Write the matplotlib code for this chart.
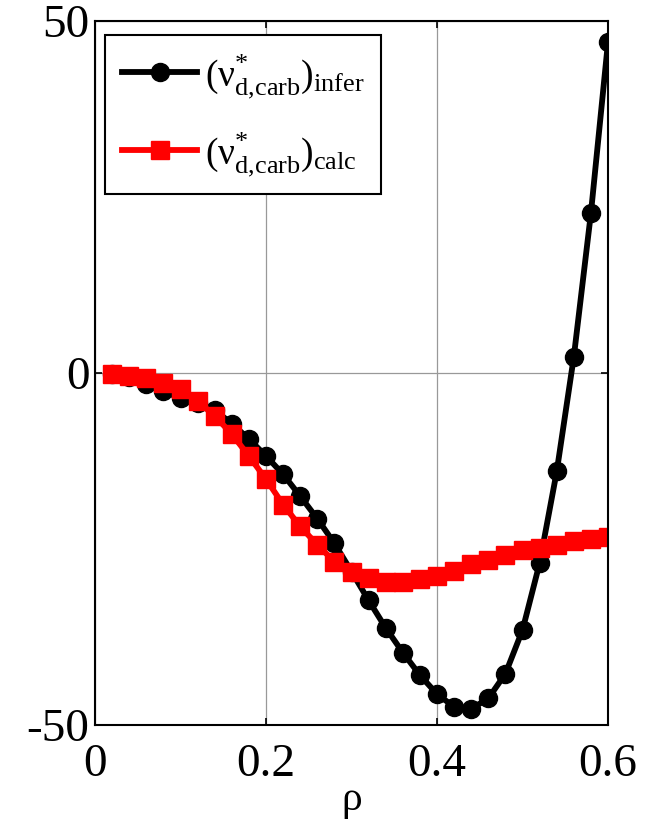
import numpy as np
import matplotlib
matplotlib.use('Agg')
import matplotlib.pyplot as plt

plt.rcParams['font.family'] = ['Liberation Serif', 'DejaVu Serif']
plt.rcParams['mathtext.fontset'] = 'custom'
plt.rcParams['mathtext.rm'] = 'Liberation Serif'
plt.rcParams['mathtext.it'] = 'Liberation Serif:italic'
plt.rcParams['axes.unicode_minus'] = False

rho = [0.02, 0.04, 0.06, 0.08, 0.10, 0.12, 0.14, 0.16, 0.18, 0.20,
       0.22, 0.24, 0.26, 0.28, 0.30, 0.32, 0.34, 0.36, 0.38, 0.40,
       0.42, 0.44, 0.46, 0.48, 0.50, 0.52, 0.54, 0.56, 0.58, 0.60]

nu_infer = [-0.1, -0.6, -1.6, -2.6, -3.6, -4.3, -5.3, -7.2, -9.4, -11.8,
            -14.4, -17.5, -20.7, -24.2, -28.2, -32.3, -36.2, -39.7, -42.9, -45.6,
            -47.4, -47.7, -46.2, -42.7, -36.5, -27.0, -14.0, 2.3, 22.7, 47.0]

nu_calc = [-0.1, -0.4, -0.7, -1.4, -2.3, -4.0, -6.1, -8.7, -11.8, -15.1,
           -18.7, -21.8, -24.4, -26.8, -28.2, -29.1, -29.7, -29.7, -29.3, -28.8,
           -28.1, -27.2, -26.5, -25.9, -25.2, -24.8, -24.4, -23.9, -23.6, -23.3]

fig = plt.figure(figsize=(6.62, 8.24), dpi=100)
ax = fig.add_axes([0.1435, 0.12, 0.775, 0.855])

ax.plot(rho, nu_infer, 'k-o', lw=4.2, ms=13,
        label=r'$(\mathregular{ν}^{*}_{\mathregular{d{,}carb}})_{\mathregular{infer}}$')
ax.plot(rho, nu_calc, '-s', color='#ff0000', lw=4.2, ms=13,
        label=r'$(\mathregular{ν}^{*}_{\mathregular{d{,}carb}})_{\mathregular{calc}}$')

ax.set_xlim(0, 0.6)
ax.set_ylim(-50, 50)
ax.set_xticks([0, 0.2, 0.4, 0.6])
ax.set_xticklabels(['0', '0.2', '0.4', '0.6'])
ax.set_yticks([-50, 0, 50])
ax.set_yticklabels(['-50', '0', '50'])
ax.grid(True, color='#999999', lw=0.9)
ax.tick_params(direction='in', length=5, width=1.2, top=True, right=True,
               labelsize=34, pad=4)
ax.tick_params(axis='x', pad=13)
for s in ax.spines.values():
    s.set_linewidth(1.5)
ax.set_xlabel('ρ', fontsize=30, labelpad=-4)

leg = ax.legend(loc='upper left', bbox_to_anchor=(0.02, 0.98), borderaxespad=0,
                fontsize=27, handlelength=2.0, handletextpad=0.2,
                labelspacing=0.8, borderpad=0.45, fancybox=False, framealpha=1)
leg.get_frame().set_edgecolor('black')
leg.get_frame().set_linewidth(1.5)

fig.savefig('out.png', dpi=100)
